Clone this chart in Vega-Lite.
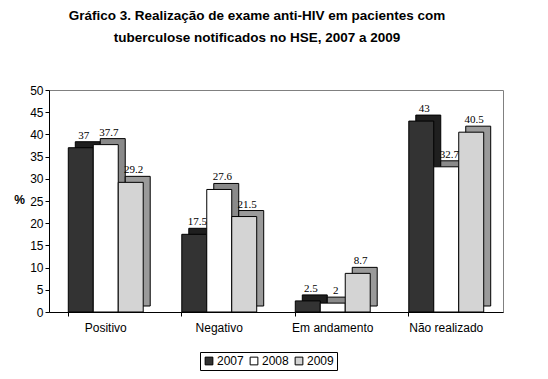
{
  "$schema": "https://vega.github.io/schema/vega-lite/v6.json",
  "autosize": "none",
  "width": 454,
  "height": 222,
  "padding": {"left": 49, "top": 90, "right": 45, "bottom": 67},
  "background": "white",
  "title": {
    "text": ["Gráfico 3. Realização de exame anti-HIV em pacientes com", "tuberculose  notificados no HSE, 2007 a 2009"],
    "font": "Liberation Sans",
    "fontSize": 13.5,
    "fontWeight": "bold",
    "lineHeight": 22,
    "anchor": "middle",
    "dx": -19,
    "offset": 40,
    "color": "black"
  },
  "data": {
    "values": [
      {"cat": "Positivo", "year": "2007", "v": 37},
      {"cat": "Positivo", "year": "2008", "v": 37.7},
      {"cat": "Positivo", "year": "2009", "v": 29.2},
      {"cat": "Negativo", "year": "2007", "v": 17.5},
      {"cat": "Negativo", "year": "2008", "v": 27.6},
      {"cat": "Negativo", "year": "2009", "v": 21.5},
      {"cat": "Em andamento", "year": "2007", "v": 2.5},
      {"cat": "Em andamento", "year": "2008", "v": 2},
      {"cat": "Em andamento", "year": "2009", "v": 8.7},
      {"cat": "Não realizado", "year": "2007", "v": 43},
      {"cat": "Não realizado", "year": "2008", "v": 32.7},
      {"cat": "Não realizado", "year": "2009", "v": 40.5}
    ]
  },
  "layer": [
    {
      "mark": {"type": "bar", "yOffset": -6, "stroke": "black", "strokeWidth": 1},
      "encoding": {
        "x": {
          "field": "cat", "type": "nominal",
          "sort": ["Positivo", "Negativo", "Em andamento", "Não realizado"],
          "scale": {"paddingInner": 0.34, "paddingOuter": 0.17, "range": [7, 461]},
          "axis": null
        },
        "xOffset": {"field": "year", "type": "nominal", "scale": {"paddingInner": 0}},
        "y": {
          "field": "v", "type": "quantitative",
          "scale": {"domain": [0, 50]},
          "axis": {
            "title": "%", "titleAngle": 0, "titleFont": "Liberation Sans", "titleFontSize": 12,
            "titleFontWeight": "bold", "titleX": -30, "titleY": 116, "titleColor": "black",
            "values": [0, 5, 10, 15, 20, 25, 30, 35, 40, 45, 50], "labelOverlap": false,
            "grid": false, "labelFont": "Liberation Sans", "labelFontSize": 12, "labelColor": "black",
            "domainColor": "black", "tickColor": "black", "tickSize": 4, "labelPadding": 2
          }
        },
        "fill": {
          "condition": [
            {"test": "datum.year === '2007'", "value": "#1f1f1f"},
            {"test": "datum.year === '2008'", "value": "#8a8a8a"}
          ],
          "value": "#9a9a9a"
        }
      }
    },
    {
      "layer": [
        {
          "mark": {"type": "bar", "stroke": "black", "strokeWidth": 1},
          "encoding": {
            "color": {
              "field": "year", "type": "nominal",
              "scale": {"domain": ["2007", "2008", "2009"], "range": ["#333333", "#ffffff", "#d4d4d4"]},
              "legend": {
                "title": null, "orient": "none", "direction": "horizontal",
                "legendX": 151, "legendY": 262,
                "symbolType": "square", "symbolSize": 60, "symbolStrokeColor": "black", "symbolStrokeWidth": 1,
                "labelFont": "Liberation Sans", "labelFontSize": 12, "labelColor": "black",
                "strokeColor": "black", "padding": 3, "columnPadding": 4, "labelOffset": 2
              }
            }
          }
        },
        {
          "mark": {"type": "text", "font": "Liberation Serif", "fontSize": 11, "dy": -12, "dx": 3, "color": "black"},
          "encoding": {"text": {"field": "v", "type": "quantitative"}}
        }
      ],
      "encoding": {
        "x": {
          "field": "cat", "type": "nominal",
          "sort": ["Positivo", "Negativo", "Em andamento", "Não realizado"],
          "scale": {"paddingInner": 0.34, "paddingOuter": 0.17},
          "axis": {
            "title": null, "labelAngle": 0, "bandPosition": 0,
            "labelFont": "Liberation Sans", "labelFontSize": 12, "labelColor": "black",
            "domainColor": "black", "tickColor": "black", "tickSize": 4, "labelPadding": 6
          }
        },
        "xOffset": {"field": "year", "type": "nominal", "scale": {"paddingInner": 0}},
        "y": {
          "field": "v", "type": "quantitative",
          "scale": {"domain": [0, 50]},
          "axis": {
            "title": "%", "titleAngle": 0, "titleFont": "Liberation Sans", "titleFontSize": 12,
            "titleFontWeight": "bold", "titleX": -30, "titleY": 116, "titleColor": "black",
            "values": [0, 5, 10, 15, 20, 25, 30, 35, 40, 45, 50], "labelOverlap": false,
            "grid": false, "labelFont": "Liberation Sans", "labelFontSize": 12, "labelColor": "black",
            "domainColor": "black", "tickColor": "black", "tickSize": 4, "labelPadding": 2
          }
        }
      }
    }
  ],
  "resolve": {"scale": {"x": "independent"}},
  "config": {"view": {"stroke": "#808080"}}
}
